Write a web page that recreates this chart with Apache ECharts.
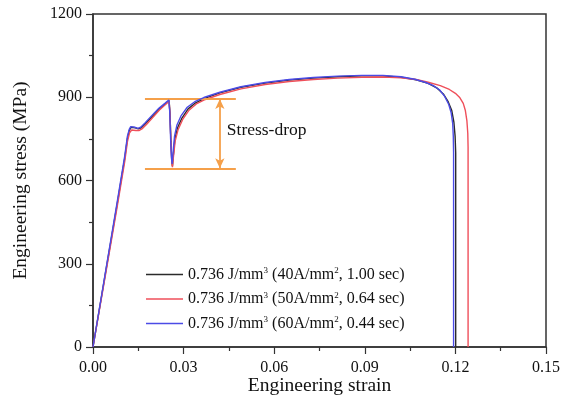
<!DOCTYPE html>
<html>
<head>
<meta charset="utf-8">
<script src="https://cdn.jsdelivr.net/npm/echarts@6/dist/echarts.min.js"></script>
<style>
  html, body { margin: 0; padding: 0; background: #fff; }
  #chart { width: 563px; height: 410px; }
</style>
</head>
<body>
<div id="chart"></div>
<script>
// Engineering stress-strain curves, three pulse conditions at the same energy density
const seriesNames = ['40A', '50A', '60A'];
const legendTexts = [
  '0.736 J/mm{sup|3} (40A/mm{sup|2}, 1.00 sec)',
  '0.736 J/mm{sup|3} (50A/mm{sup|2}, 0.64 sec)',
  '0.736 J/mm{sup|3} (60A/mm{sup|2}, 0.44 sec)'
];

// [strain, stress (MPa)]
const curve40A = [
  [0, 0], [0.0040, 258], [0.0080, 515], [0.0105, 680], [0.0114, 752], [0.0120, 780],
  [0.0126, 792], [0.0132, 794], [0.0140, 790], [0.0150, 786], [0.0160, 790],
  [0.0175, 806], [0.0195, 830], [0.0220, 858], [0.0240, 876], [0.0252, 888],
  [0.0255, 840], [0.0258, 740], [0.0261, 670], [0.0263, 652], [0.0266, 690],
  [0.0271, 748], [0.0280, 790], [0.0295, 826], [0.0315, 858], [0.0340, 880],
  [0.0370, 896], [0.0420, 916], [0.0490, 936], [0.0570, 951], [0.0650, 962],
  [0.0730, 969], [0.0810, 974], [0.0890, 977], [0.0960, 977], [0.1020, 972],
  [0.1070, 963], [0.1110, 950], [0.1138, 934], [0.1160, 912], [0.1176, 884],
  [0.1188, 852], [0.1195, 810], [0.1199, 760], [0.1201, 700], [0.1201, 0]
];

const curve50A = [
  [0, 0], [0.0040, 252], [0.0080, 505], [0.0105, 668], [0.0114, 740], [0.0121, 772],
  [0.0128, 782], [0.0134, 784], [0.0142, 780], [0.0152, 780], [0.0162, 786],
  [0.0177, 802], [0.0197, 826], [0.0220, 854], [0.0240, 874], [0.0252, 886],
  [0.0255, 838], [0.0258, 738], [0.0261, 666], [0.0263, 648], [0.0266, 682],
  [0.0272, 742], [0.0282, 784], [0.0297, 820], [0.0317, 852], [0.0342, 876],
  [0.0372, 892], [0.0420, 910], [0.0490, 930], [0.0570, 946], [0.0650, 957],
  [0.0730, 964], [0.0810, 969], [0.0890, 972], [0.0960, 973], [0.1020, 970],
  [0.1070, 964], [0.1110, 954], [0.1150, 942], [0.1180, 928], [0.1200, 914],
  [0.1215, 898], [0.1226, 878], [0.1233, 852], [0.1238, 816], [0.1241, 770],
  [0.1242, 720], [0.1242, 0]
];

const curve60A = [
  [0, 0], [0.0040, 262], [0.0080, 522], [0.0105, 688], [0.0114, 760], [0.0120, 784],
  [0.0125, 794], [0.0130, 796], [0.0138, 792], [0.0148, 788], [0.0158, 792],
  [0.0173, 808], [0.0193, 832], [0.0218, 860], [0.0238, 878], [0.0251, 890],
  [0.0254, 850], [0.0257, 750], [0.0260, 680], [0.0262, 660], [0.0265, 700],
  [0.0270, 760], [0.0278, 800], [0.0292, 834], [0.0312, 864], [0.0337, 884],
  [0.0367, 899], [0.0420, 918], [0.0490, 938], [0.0570, 953], [0.0650, 964],
  [0.0730, 971], [0.0810, 976], [0.0890, 979], [0.0960, 979], [0.1020, 974],
  [0.1065, 965], [0.1100, 954], [0.1127, 942], [0.1148, 926], [0.1165, 902],
  [0.1178, 874], [0.1186, 844], [0.1191, 806], [0.1193, 760], [0.1194, 700],
  [0.1194, 0]
];

// Stress-drop annotation (data units)
const dropTop = 894;
const dropBottom = 644;
const dropLineStart = 0.0172;
const dropLineEnd = 0.0473;
const dropArrowStrain = 0.0420;
const dropLabel = 'Stress-drop';
const dropLabelPos = [0.0443, 779];

// Axis settings
const xMin = 0, xMax = 0.15, xStep = 0.03;
const yMin = 0, yMax = 1200, yStep = 300;

const serif = '"Liberation Serif", "Times New Roman", serif';
const axisColor = '#333';
const textColor = '#111';
const orange = '#f5a04a';
const colors = ['#2b2b2b', '#ef4f5a', '#4b4be6'];
const curves = [curve40A, curve50A, curve60A];

const chart = echarts.init(document.getElementById('chart'), null, { renderer: 'canvas' });

function axisCommon() {
  return {
    axisLine: { show: true, onZero: false, lineStyle: { color: axisColor, width: 1.5 } },
    axisTick: { show: true, inside: false, length: 7, lineStyle: { color: axisColor, width: 1.2 } },
    minorTick: { show: true, splitNumber: 2, length: 4, lineStyle: { color: axisColor, width: 1.2 } },
    splitLine: { show: false },
    axisLabel: { color: textColor, fontFamily: serif, fontSize: 16 },
    nameTextStyle: { color: textColor, fontFamily: serif, fontSize: 19.5 },
    nameMoveOverlap: false
  };
}

const lineSeries = curves.map((data, i) => ({
  name: seriesNames[i],
  type: 'line',
  data: data,
  symbol: 'none',
  showSymbol: false,
  smooth: false,
  lineStyle: { color: colors[i], width: 1.4 },
  itemStyle: { color: colors[i] },
  z: 3 + i
}));

const annotationSeries = {
  name: 'annotation',
  type: 'scatter',
  data: [dropLabelPos],
  symbolSize: 0,
  silent: true,
  itemStyle: { opacity: 1 },
  label: {
    show: true,
    position: 'right',
    distance: 0,
    formatter: dropLabel,
    color: textColor,
    fontFamily: serif,
    fontSize: 17.5
  },
  markLine: {
    silent: true,
    symbol: ['none', 'none'],
    label: { show: false },
    lineStyle: { color: orange, width: 1.8, type: 'solid', opacity: 1 },
    data: [
      [{ coord: [dropLineStart, dropTop] }, { coord: [dropLineEnd, dropTop] }],
      [{ coord: [dropLineStart, dropBottom] }, { coord: [dropLineEnd, dropBottom] }],
      [
        { coord: [dropArrowStrain, dropTop], symbol: 'arrow', symbolSize: [7, 10] },
        { coord: [dropArrowStrain, dropBottom], symbol: 'arrow', symbolSize: [7, 10] }
      ]
    ]
  },
  z: 2
};

chart.setOption({
  animation: false,
  backgroundColor: '#fff',
  grid: {
    left: 93, right: 17, top: 14, bottom: 63,
    show: true, borderColor: axisColor, borderWidth: 1.5, backgroundColor: 'transparent'
  },
  legend: {
    data: seriesNames,
    orient: 'vertical',
    left: 141,
    top: 261.5,
    icon: 'rect',
    itemWidth: 37,
    itemHeight: 1.5,
    itemGap: 8.5,
    formatter: name => legendTexts[seriesNames.indexOf(name)],
    textStyle: {
      color: textColor,
      fontFamily: serif,
      fontSize: 16,
      lineHeight: 16,
      rich: {
        sup: { fontFamily: serif, fontSize: 9, lineHeight: 16, verticalAlign: 'top', padding: [0, 0, 6, 0], color: textColor }
      }
    }
  },
  xAxis: Object.assign(axisCommon(), {
    type: 'value',
    min: xMin, max: xMax, interval: xStep,
    name: 'Engineering strain',
    nameLocation: 'middle',
    nameGap: 29,
    axisLabel: Object.assign(axisCommon().axisLabel, {
      margin: 13,
      formatter: v => v.toFixed(2)
    })
  }),
  yAxis: Object.assign(axisCommon(), {
    type: 'value',
    min: yMin, max: yMax, interval: yStep,
    name: 'Engineering stress (MPa)',
    nameLocation: 'middle',
    nameGap: 62,
    axisLabel: Object.assign(axisCommon().axisLabel, {
      margin: 11,
      formatter: v => String(v)
    })
  }),
  series: lineSeries.concat([annotationSeries])
});
</script>
</body>
</html>
